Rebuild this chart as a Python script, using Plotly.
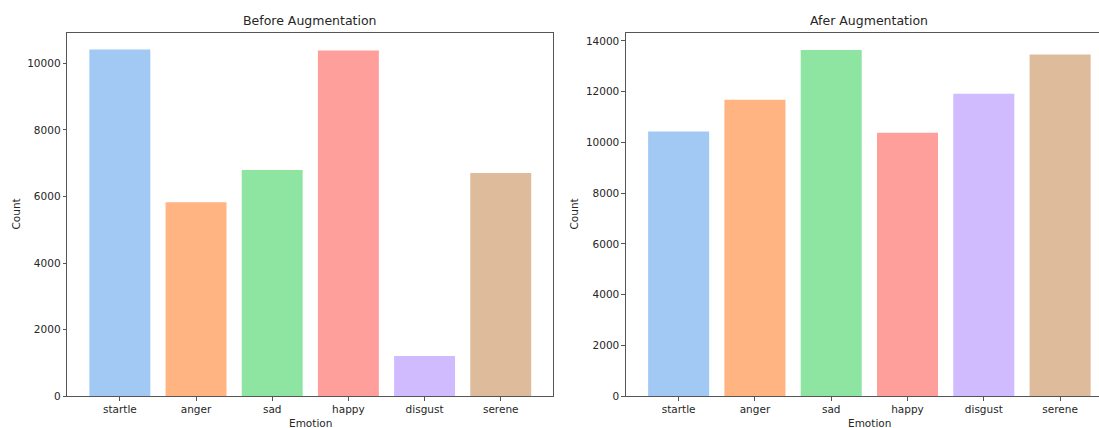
import plotly.graph_objects as go

emotions = ["startle", "anger", "sad", "happy", "disgust", "serene"]
before_counts = [10420, 5830, 6795, 10385, 1212, 6705]
after_counts = [10430, 11685, 13640, 10385, 11920, 13460]
colors = ["#a1c9f4", "#ffb482", "#8de5a1", "#ff9f9b", "#d0bbff", "#debb9b"]
titles = ["Before Augmentation", "Afer Augmentation"]
x_label = "Emotion"
y_label = "Count"

W = 1099
H = 435          # captured viewport height (scaled to 428 in the photo)
REF_H = 428
FONT = "DejaVu Sans"
TXT = "#262626"
LINE = "#555555"


def fx(px):
    return px / W


def fy(py):
    return 1 - py / REF_H


fig = go.Figure()
fig.add_trace(go.Bar(x=emotions, y=before_counts, marker=dict(color=colors, line=dict(width=0)),
                     width=0.8, xaxis="x", yaxis="y", showlegend=False))
fig.add_trace(go.Bar(x=emotions, y=after_counts, marker=dict(color=colors, line=dict(width=0)),
                     width=0.8, xaxis="x2", yaxis="y2", showlegend=False))

ydom = [fy(395.3), fy(32.7)]
xdom1 = [fx(67.3), fx(553.3)]
xdom2 = [fx(626), 1.0]

common_x = dict(type="category", showline=True, mirror=True, linecolor=LINE, linewidth=1.2,
                ticks="outside", ticklen=3.5, tickcolor=LINE, showgrid=False, zeroline=False,
                tickfont=dict(family=FONT, size=10.5, color=TXT))
common_y = dict(showline=True, linecolor=LINE, linewidth=1.2, ticks="outside", ticklen=3.5,
                tickcolor=LINE, showgrid=False, zeroline=False, dtick=2000, tickformat="d",
                tickfont=dict(family=FONT, size=10.5, color=TXT), domain=ydom)

fig.update_layout(
    width=W, height=H, margin=dict(l=0, r=0, t=0, b=0),
    plot_bgcolor="white", paper_bgcolor="white", bargap=0.2,
    xaxis=dict(common_x, domain=xdom1, range=[-0.69, 5.69], anchor="y"),
    yaxis=dict(common_y, range=[0, 10920], mirror=True, anchor="x"),
    xaxis2=dict(common_x, domain=xdom2, range=[-0.69, 5.51], anchor="y2"),
    yaxis2=dict(common_y, range=[0, 14320], mirror=False, anchor="x2"),
    font=dict(family=FONT, color=TXT),
)

ann = []
title_x = [310.3, 869]
count_x = [15, 573]
emo_x = [310.3, 869]
for i in range(2):
    ann.append(dict(text=titles[i], x=fx(title_x[i]), y=fy(20.5), xref="paper", yref="paper",
                    showarrow=False, xanchor="center", yanchor="middle",
                    font=dict(family=FONT, size=12.5, color=TXT)))
    ann.append(dict(text=y_label, x=fx(count_x[i]), y=fy(214), xref="paper", yref="paper",
                    showarrow=False, xanchor="center", yanchor="middle", textangle=-90,
                    font=dict(family=FONT, size=10.5, color=TXT)))
    ann.append(dict(text=x_label, x=fx(emo_x[i]), y=fy(422.5), xref="paper", yref="paper",
                    showarrow=False, xanchor="center", yanchor="middle",
                    font=dict(family=FONT, size=10.5, color=TXT)))
fig.update_layout(annotations=ann)

fig.write_html("out.html", config={"displayModeBar": False},
               post_script="document.body.style.margin='0';document.body.style.overflow='hidden';")
